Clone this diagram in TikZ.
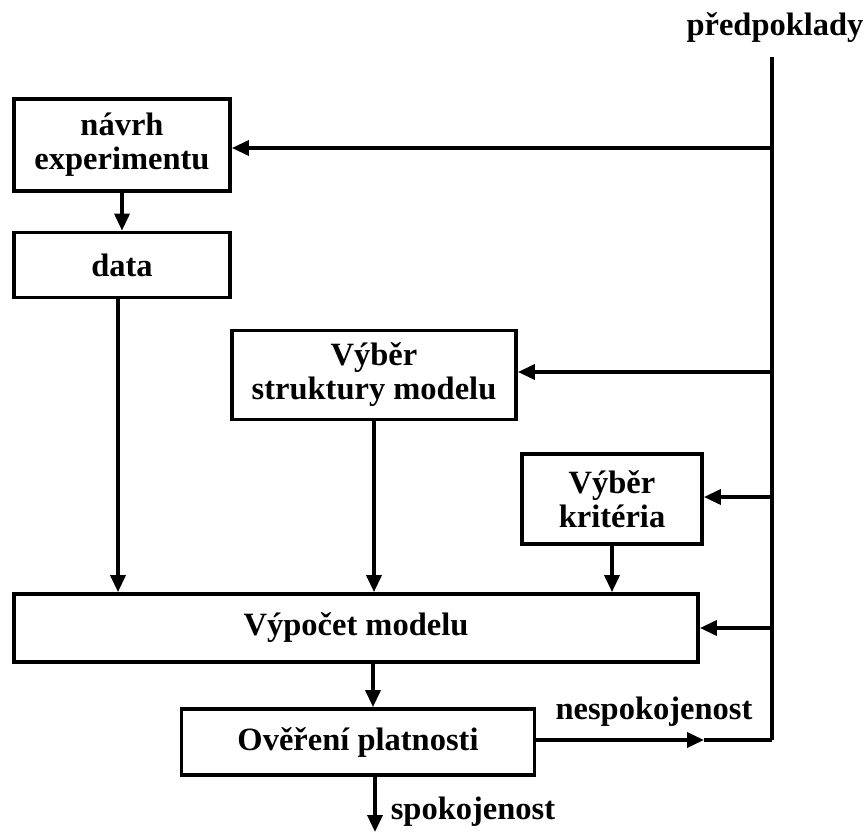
\documentclass[tikz,border=0pt]{standalone}
\usepackage{fontspec}
\setmainfont{Liberation Serif}
\usetikzlibrary{arrows.meta}
\begin{document}
\begin{tikzpicture}[x=1pt,y=-1pt,
  box/.style={draw,line width=3.8pt,inner sep=0pt,align=center,font=\fontsize{32.5}{34}\selectfont\bfseries},
  lbl/.style={inner sep=0pt,font=\fontsize{32.5}{34}\selectfont\bfseries},
  conn/.style={line width=3.5pt},
  arr/.style={line width=3.5pt,-{Triangle[length=17pt,width=15pt]}}]
\useasboundingbox (0,0) rectangle (868,832);
\node[box,minimum width=216pt,minimum height=92pt] (navrh) at (122,145) {návrh\\experimentu};
\node[box,minimum width=216pt,minimum height=65pt] (data) at (122,265) {data};
\node[box,minimum width=284pt,minimum height=89pt] (strukt) at (374,375) {Výběr\\struktury modelu};
\node[box,minimum width=180pt,minimum height=90pt] (krit) at (612,499) {Výběr\\kritéria};
\node[box,minimum width=684pt,minimum height=68pt] (vyp) at (356,628) {Výpočet modelu};
\node[box,minimum width=353pt,minimum height=66pt] (over) at (358,742) {Ověření platnosti};
\node[lbl] (pred) at (775,28) {předpoklady};
\node[lbl] (nesp) at (654,712) {nespokojenost};
\node[lbl] (spok) at (473,812) {spokojenost};
\coordinate (top) at (772,57);
\coordinate (bot) at (772,740);
\coordinate (mid) at (704,740);
\coordinate (end) at (375,832);
\draw[conn] (top) -- (bot);
\draw[arr] (772,148) -- (navrh.east |- 0,148);
\draw[arr] (772,372) -- (strukt.east |- 0,372);
\draw[arr] (772,497) -- (krit.east |- 0,497);
\draw[arr] (772,628) -- (vyp.east |- 0,628);
\draw[arr] (navrh.south) -- (data.north);
\draw[arr] (data.south -| 118,0) -- (vyp.north -| 118,0);
\draw[arr] (strukt.south) -- (vyp.north -| strukt.south);
\draw[arr] (krit.south) -- (vyp.north -| krit.south);
\draw[arr] (vyp.south -| 373,0) -- (over.north -| 373,0);
\draw[arr] (over.east |- 0,740) -- (mid);
\draw[conn] (mid) -- (bot);
\draw[arr] (over.south -| end) -- (end);
\end{tikzpicture}
\end{document}
